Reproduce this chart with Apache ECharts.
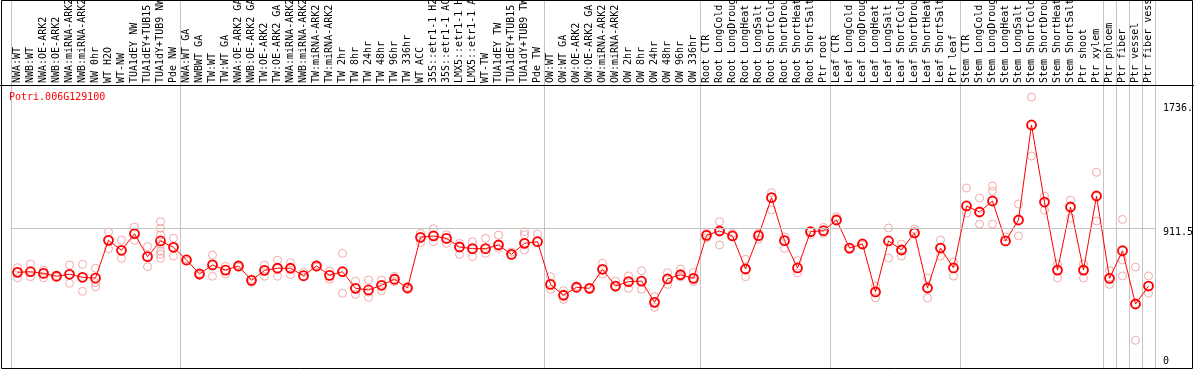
<!DOCTYPE html>
<html>
<head>
<meta charset="utf-8">
<script src="https://cdn.jsdelivr.net/npm/echarts@6/dist/echarts.min.js"></script>
<style>
    html, body { margin: 0; padding: 0; background: #fff; }
    #chart { width: 1194px; height: 370px; }
</style>
</head>
<body>
<div id="chart"></div>
<script>
// sample names along the top
var categories = [
    'NWA:WT', 'NWB:WT', 'NWA:OE-ARK2', 'NWB:OE-ARK2', 'NWA:miRNA-ARK2', 'NWB:miRNA-ARK2', 'NW 0hr',
    'WT H2O', 'WT-NW', 'TUA1dEY NW', 'TUA1dEY+TUB15 NW', 'TUA1dY+TUB9 NW', 'Pde NW',
    'NWA:WT GA', 'NWBWT GA', 'TW:WT', 'TW:WT GA', 'NWA:OE-ARK2 GA', 'NWB:OE-ARK2 GA', 'TW:OE-ARK2',
    'TW:OE-ARK2 GA', 'NWA:miRNA-ARK2', 'NWB:miRNA-ARK2', 'TW:miRNA-ARK2', 'TW:miRNA-ARK2',
    'TW 2hr', 'TW 8hr', 'TW 24hr', 'TW 48hr', 'TW 96hr', 'TW 336hr', 'WT ACC',
    '35S::etr1-1 H2O', '35S::etr1-1 ACC', 'LMX5::etr1-1 H2O', 'LMX5::etr1-1 ACC', 'WT-TW',
    'TUA1dEY TW', 'TUA1dEY+TUB15 TW', 'TUA1dY+TUB9 TW', 'Pde TW',
    'OW:WT', 'OW:WT GA', 'OW:OE-ARK2', 'OW:OE-ARK2 GA', 'OW:miRNA-ARK2', 'OW:miRNA-ARK2',
    'OW 2hr', 'OW 8hr', 'OW 24hr', 'OW 48hr', 'OW 96hr', 'OW 336hr',
    'Root CTR', 'Root LongCold', 'Root LongDrought', 'Root LongHeat', 'Root LongSalt',
    'Root ShortCold', 'Root ShortDrought', 'Root ShortHeat', 'Root ShortSalt', 'Ptr root',
    'Leaf CTR', 'Leaf LongCold', 'Leaf LongDrought', 'Leaf LongHeat', 'Leaf LongSalt',
    'Leaf ShortCold', 'Leaf ShortDrought', 'Leaf ShortHeat', 'Leaf ShortSalt', 'Ptr leaf',
    'Stem CTR', 'Stem LongCold', 'Stem LongDrought', 'Stem LongHeat', 'Stem LongSalt',
    'Stem ShortCold', 'Stem ShortDrought', 'Stem ShortHeat', 'Stem ShortSalt', 'Ptr shoot',
    'Ptr xylem', 'Ptr phloem', 'Ptr fiber', 'Ptr vessel', 'Ptr fiber vessel'
];

// mean expression per sample (red line)
var means = [
    621, 625, 614, 595, 608, 588, 583, 833, 767, 877, 725, 829, 787,
    703, 610, 670, 636, 663, 568, 634, 648, 648, 599, 663, 601, 625, 515, 504, 535, 575, 517,
    853, 862, 846, 789, 778, 778, 802, 740, 813, 824,
    541, 469, 522, 515, 641, 530, 559, 563, 422, 577, 605, 581,
    866, 895, 862, 643, 864, 1116, 831, 650, 890, 897,
    968, 782, 809, 491, 829, 769, 882, 517, 782, 650,
    1061, 1021, 1094, 829, 968, 1598, 1087, 636, 1054, 636,
    1127, 581, 764, 411, 530
];

// single replicates per sample (pale circles)
var replicates = [
    [652, 621, 585], [676, 625, 592], [636, 620, 585], [600, 590], [670, 608, 548],
    [674, 588, 495], [648, 552, 526], [888, 833, 778], [835, 767, 714], [921, 877, 833],
    [791, 725, 658], [957, 913, 868, 807, 762, 740, 714], [847, 787, 729],
    [710, 695], [615, 600], [736, 670, 595], [660, 610], [670, 655], [575, 555],
    [670, 634, 595], [701, 648, 595], [685, 648, 605], [620, 590], [670, 655], [630, 575],
    [747, 625, 482], [563, 515, 475], [570, 490, 455], [570, 535, 499], [595, 560], [525, 510],
    [880, 853, 817], [910, 862, 824], [870, 813], [813, 789, 740], [824, 778, 725],
    [846, 778, 747], [868, 802, 780], [755, 735], [890, 870, 813, 769], [875, 824],
    [592, 541, 508], [500, 469, 442], [530, 515], [520, 510], [681, 641, 610],
    [563, 530, 520], [597, 559, 515], [632, 563, 508], [459, 422, 389], [618, 577, 541],
    [643, 605, 590], [620, 581, 560],
    [880, 866, 850], [957, 895, 802], [880, 862], [707, 643, 592], [880, 864, 840],
    [1149, 1116, 1034], [857, 831, 780], [698, 650, 618], [890, 870], [919, 897, 880],
    [990, 968], [782, 770], [809, 800], [530, 491, 452], [915, 829, 716],
    [808, 769, 729], [908, 882], [583, 517, 451], [835, 782, 729], [689, 650, 596],
    [1180, 1061, 1014], [1114, 1021, 941], [1193, 1160, 941], [855, 829], [1074, 968, 862],
    [1783, 1598, 1392], [1127, 1087, 1034], [676, 636, 583], [1100, 1054, 981], [676, 636, 583],
    [1284, 1127, 961], [632, 581, 541], [972, 703, 597], [656, 411, 170], [597, 530, 482]
];

// right-hand tick labels
var yTicks = [0, 911.5, 1736];
var yTickText = ['0', '911.5', '1736.'];
var refLine = 911.5;
var geneName = 'Potri.006G129100';

// index of the first sample of each block (vertical separators)
var groupStarts = [0, 13, 41, 53, 63, 73, 84, 85, 86, 87, 88];

var repPoints = [];
replicates.forEach(function (list, i) {
    list.forEach(function (v) { repPoints.push([i, v]); });
});

var FONT = 'DejaVu Sans Mono';
var GRID_GREY = '#c4c4c4';
var sepLine = {
    show: true,
    interval: function (idx) { return groupStarts.indexOf(idx) >= 0; },
    lineStyle: { color: GRID_GREY, width: 1 }
};

var myChart = echarts.init(document.getElementById('chart'));
var option = {
    animation: false,
    textStyle: { fontFamily: FONT },
    title: {
        text: geneName,
        left: 9,
        top: 92,
        padding: 0,
        textStyle: { color: '#ff0000', fontSize: 10, fontWeight: 'normal', fontFamily: FONT }
    },
    grid: [
        { left: 11, right: 39, top: 85, bottom: 1, outerBoundsMode: 'none' },
        { left: 11, right: 39, top: 0, height: 85, outerBoundsMode: 'none' }
    ],
    xAxis: [{
        type: 'category',
        gridIndex: 0,
        data: categories,
        position: 'top',
        axisLine: { show: false },
        axisTick: { show: false },
        axisLabel: {
            interval: 0,
            rotate: 90,
            margin: 2,
            padding: [4, 0, 0, 0],
            fontSize: 10,
            color: '#000',
            fontFamily: FONT
        },
        splitLine: sepLine
    }, {
        type: 'category',
        gridIndex: 1,
        data: categories,
        axisLine: { show: false },
        axisTick: { show: false },
        axisLabel: { show: false },
        splitLine: sepLine
    }],
    yAxis: [{
        type: 'value',
        gridIndex: 0,
        position: 'right',
        min: -20,
        max: 1863,
        axisLine: { show: true, lineStyle: { color: GRID_GREY } },
        axisTick: { show: false },
        splitLine: { show: false },
        axisLabel: {
            customValues: yTicks,
            margin: 8,
            fontSize: 10,
            color: '#000',
            fontFamily: FONT,
            formatter: function (v) {
                var t = yTickText[yTicks.indexOf(v)];
                return v === 0 ? '{b|' + t + '}' : '{a|' + t + '}';
            },
            rich: {
                a: { padding: [8, 0, 0, 0], fontSize: 10, fontFamily: FONT },
                b: { padding: [0, 0, 9, 0], fontSize: 10, fontFamily: FONT }
            }
        }
    }, {
        type: 'value',
        gridIndex: 1,
        position: 'right',
        axisLine: { show: true, lineStyle: { color: GRID_GREY } },
        axisTick: { show: false },
        axisLabel: { show: false },
        splitLine: { show: false }
    }],
    graphic: [{
        type: 'rect',
        shape: { x: 1.5, y: 0.5, width: 1191, height: 368 },
        style: { fill: null, stroke: '#000', lineWidth: 1 },
        z: 100
    }, {
        type: 'line',
        shape: { x1: 0, y1: 85.5, x2: 1194, y2: 85.5 },
        style: { stroke: '#000', lineWidth: 1 },
        z: 100
    }],
    series: [{
        name: 'replicates',
        type: 'scatter',
        data: repPoints,
        symbol: 'circle',
        symbolSize: 8,
        itemStyle: { color: 'transparent', borderColor: '#ef9494', borderWidth: 1 },
        z: 2
    }, {
        name: 'mean',
        type: 'line',
        data: means,
        symbol: 'circle',
        symbolSize: 9,
        lineStyle: { color: '#ff0000', width: 1 },
        itemStyle: { color: 'transparent', borderColor: '#ff0000', borderWidth: 1.8 },
        z: 3,
        markLine: {
            silent: true,
            symbol: ['none', 'none'],
            label: { show: false },
            lineStyle: { color: GRID_GREY, type: 'solid', width: 1 },
            data: [{ yAxis: refLine }]
        }
    }]
};
myChart.setOption(option);
</script>
</body>
</html>
